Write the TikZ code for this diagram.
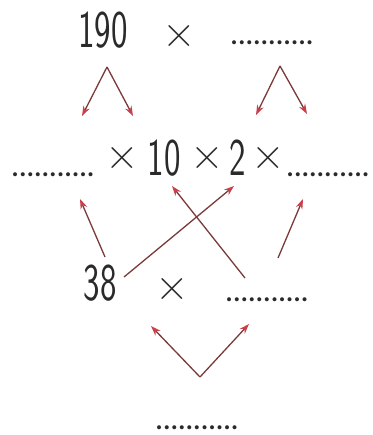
\documentclass[tikz,border=0pt]{standalone}
\usepackage{fontspec}
\setmainfont{Lato}
\newfontfamily\numfont[FakeStretch=0.66]{Latin Modern Sans}
\newfontfamily\timesfont{Latin Modern Sans}
\usetikzlibrary{arrows.meta}
\definecolor{lineclr}{HTML}{7A3A3A}
\definecolor{headclr}{HTML}{C8404A}
\definecolor{txtclr}{HTML}{2A2A2A}
\tikzset{
  num/.style={inner sep=0pt, anchor=base, text=txtclr, font=\numfont\fontsize{53}{53}\selectfont},
  times/.style={inner sep=0pt, anchor=center, text=txtclr, font=\timesfont\fontsize{46}{46}\selectfont},
  blank/.style={inner sep=0pt, anchor=base, text=txtclr, font=\fontsize{32}{32}\selectfont},
  arr/.style={draw=lineclr, line width=1.3pt, -{Stealth[length=10pt, width=7pt, color=headclr]}},
}
\begin{document}
\begin{tikzpicture}[x=1pt, y=-1pt]
\useasboundingbox (0,0) rectangle (372,435);
% row 1
\node[num] (a190) at (103,48) {190};
\node[times] (t1) at (179,36) {×};
\node[blank] (b1) at (272,45) {...........};
% row 2
\node[blank] (b2) at (53,177) {...........};
\node[times] (t2) at (122,158) {×};
\node[num] (n10) at (164,176) {10};
\node[times] (t3) at (207,158) {×};
\node[num] (n2) at (238,176) {2};
\node[times] (t4) at (268,158) {×};
\node[blank] (b3) at (328,177) {...........};
% row 3
\node[num] (n38) at (100,300) {38};
\node[times] (t5) at (172,289) {×};
\node[blank] (b4) at (267,301) {...........};
% bottom
\node[blank] (b5) at (197,429) {...........};
% coordinates
\coordinate (p1) at (107,67);
\coordinate (p1l) at (82,116);
\coordinate (p1r) at (133,116);
\coordinate (p2) at (280,66);
\coordinate (p2l) at (256,115);
\coordinate (p2r) at (307,114);
\coordinate (s1) at (105,257);
\coordinate (e1) at (80,199);
\coordinate (s2) at (124,277);
\coordinate (e2) at (234,186);
\coordinate (s3) at (245,278);
\coordinate (e3) at (172,186);
\coordinate (s4) at (278,258);
\coordinate (e4) at (303,199);
\coordinate (v) at (200,377);
\coordinate (vl) at (151,326);
\coordinate (vr) at (249,324);
% arrows
\draw[arr] (p1) -- (p1l);
\draw[arr] (p1) -- (p1r);
\draw[arr] (p2) -- (p2l);
\draw[arr] (p2) -- (p2r);
\draw[arr] (s1) -- (e1);
\draw[arr] (s2) -- (e2);
\draw[arr] (s3) -- (e3);
\draw[arr] (s4) -- (e4);
\draw[arr] (v) -- (vl);
\draw[arr] (v) -- (vr);
\end{tikzpicture}
\end{document}
